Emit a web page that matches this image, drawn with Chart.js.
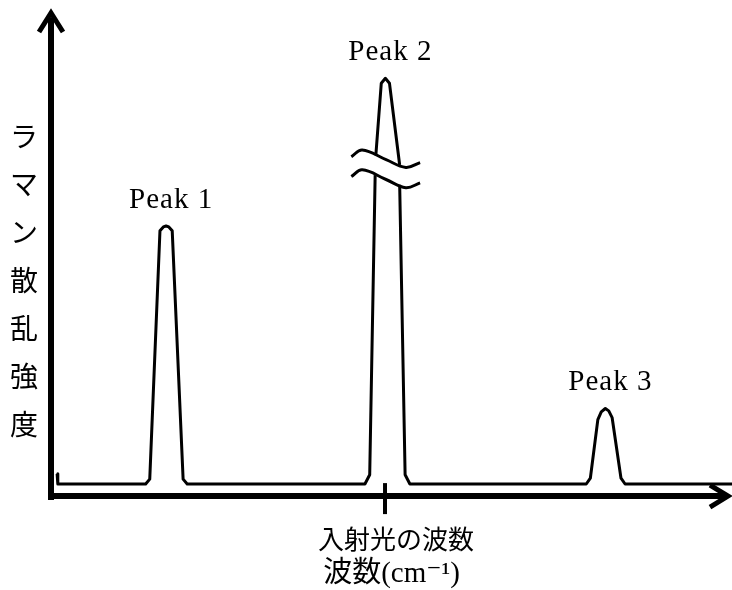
<!DOCTYPE html>
<html><head><meta charset="utf-8">
<script src="https://cdn.jsdelivr.net/npm/chart.js@4"></script>
<style>html,body{margin:0;padding:0;background:#fff}#wrap{width:732px;height:590px;position:relative}</style>
</head><body><div id="wrap"><canvas id="c" width="732" height="590" style="width:732px;height:590px"></canvas></div>
<script>
// ---- data (arbitrary units) ----
const wavenumber = [0.9, 1.0, 13.9, 14.5, 16.0, 16.5, 16.9, 17.3, 17.8, 19.4, 20.0,
  46.1, 46.8, 47.6, 47.6, 47.7, 48.5, 49.1, 49.7, 51.2, 51.2, 51.2, 52.0, 52.7,
  78.6, 79.2, 80.3, 80.8, 81.4, 81.9, 82.4, 83.7, 84.3, 100];
const intensity = [4.6, 2.5, 2.5, 3.5, 54.8, 55.6, 55.8, 55.6, 54.8, 3.5, 2.5,
  2.5, 4.4, 66.3, null, 70.4, 85.3, 86.3, 85.3, 68.4, null, 64.3, 4.4, 2.5,
  2.5, 3.7, 15.8, 17.4, 18.1, 17.6, 16.2, 3.7, 2.5, 2.5];
const breakUpperX = [44.1, 45.7, 49.2, 52.1, 54.2];
const breakUpperY = [70.1, 71.5, 69.5, 67.9, 68.9];
const breakLowerX = [44.1, 45.7, 49.2, 52.1, 54.2];
const breakLowerY = [66.0, 67.4, 65.4, 63.7, 64.7];
const peakNames = ['Peak 1', 'Peak 2', 'Peak 3'];
const peakCenters = [16.9, 49.1, 81.4];
const incidentWavenumber = 49.05;
const tickLabels = ['入射光の波数'];
const xTitle = '波数(cm⁻¹)';
const yTitle = 'ラマン散乱強度';

const toPoints = (xs, ys) => xs.map((x, i) => ({x: x, y: ys[i]}));

const decor = {
  id: 'decor',
  afterDraw(chart) {
    const ctx = chart.ctx, ca = chart.chartArea;
    const xs = chart.scales.x, ys = chart.scales.y;
    ctx.save();
    ctx.strokeStyle = '#000'; ctx.fillStyle = '#000';
    const ax = ca.left, ay = ca.bottom;
    ctx.lineWidth = 6; ctx.lineCap = 'butt'; ctx.lineJoin = 'miter';
    ctx.beginPath(); ctx.moveTo(ax, ay + 4); ctx.lineTo(ax, ca.top + 6); ctx.stroke();
    ctx.lineWidth = 5;
    ctx.beginPath(); ctx.moveTo(ax - 12, ca.top + 20); ctx.lineTo(ax, ca.top + 1); ctx.lineTo(ax + 12, ca.top + 20); ctx.stroke();
    ctx.lineWidth = 6;
    ctx.beginPath(); ctx.moveTo(ax - 3, ay); ctx.lineTo(ca.right - 8, ay); ctx.stroke();
    ctx.lineWidth = 5;
    ctx.beginPath(); ctx.moveTo(ca.right - 22, ay - 11); ctx.lineTo(ca.right - 4, ay); ctx.lineTo(ca.right - 22, ay + 11); ctx.stroke();
    const tx = xs.getPixelForValue(incidentWavenumber);
    ctx.lineWidth = 4;
    ctx.beginPath(); ctx.moveTo(tx, ay - 13); ctx.lineTo(tx, ay + 2); ctx.stroke();
    ctx.font = "29px 'Liberation Serif', serif";
    try { ctx.letterSpacing = '1px'; } catch (e) {}
    ctx.textAlign = 'center'; ctx.textBaseline = 'alphabetic';
    peakNames.forEach((name, i) => {
      let best = null;
      wavenumber.forEach((w, j) => {
        if (intensity[j] !== null && Math.abs(w - peakCenters[i]) < 3 && (best === null || intensity[j] > intensity[best])) best = j;
      });
      const px = xs.getPixelForValue(wavenumber[best]);
      const py = ys.getPixelForValue(intensity[best]);
      ctx.fillText(name, px + 5, py - 18);
    });
    try { ctx.letterSpacing = '0px'; } catch (e) {}
    ctx.font = "28px 'Noto Sans CJK JP', sans-serif";
    ctx.textBaseline = 'middle';
    Array.from(yTitle).forEach((ch, i) => ctx.fillText(ch, 24, 136 + i * 48));
    ctx.restore();
  }
};

new Chart(document.getElementById('c'), {
  type: 'line',
  data: {
    datasets: [
      {label: 'spectrum', data: toPoints(wavenumber, intensity), borderColor: '#000', borderWidth: 3,
       pointRadius: 0, tension: 0, spanGaps: false, fill: false, borderJoinStyle: 'round'},
      {label: 'breakUpper', data: toPoints(breakUpperX, breakUpperY), borderColor: '#000', borderWidth: 3,
       pointRadius: 0, tension: 0.4, fill: false},
      {label: 'breakLower', data: toPoints(breakLowerX, breakLowerY), borderColor: '#000', borderWidth: 3,
       pointRadius: 0, tension: 0.4, fill: false}
    ]
  },
  options: {
    responsive: false, animation: false, devicePixelRatio: 1,
    layout: {padding: {left: 51, top: 12, right: 0, bottom: 0}},
    plugins: {legend: {display: false}, tooltip: {enabled: false}},
    scales: {
      x: {
        type: 'linear', min: 0, max: 100,
        afterBuildTicks: (s) => { s.ticks = [{value: incidentWavenumber}]; },
        grid: {display: true, drawOnChartArea: false, drawTicks: true, tickLength: 18, color: '#000', lineWidth: 4},
        border: {display: false},
        ticks: {
          callback: (v, i) => tickLabels[i],
          font: {family: "'Noto Sans CJK JP', sans-serif", size: 26, lineHeight: 1.0},
          color: '#000', padding: 12, labelOffset: 11, maxRotation: 0, autoSkip: false
        },
        title: {display: true, text: xTitle, color: '#000',
          font: {family: "'Liberation Serif', 'DejaVu Serif', 'Noto Sans CJK JP', serif", size: 29, lineHeight: 1.1},
          padding: {top: -6, bottom: 0}}
      },
      y: {type: 'linear', display: false, min: 0, max: 100}
    }
  },
  plugins: [decor]
});
</script>
</body></html>
